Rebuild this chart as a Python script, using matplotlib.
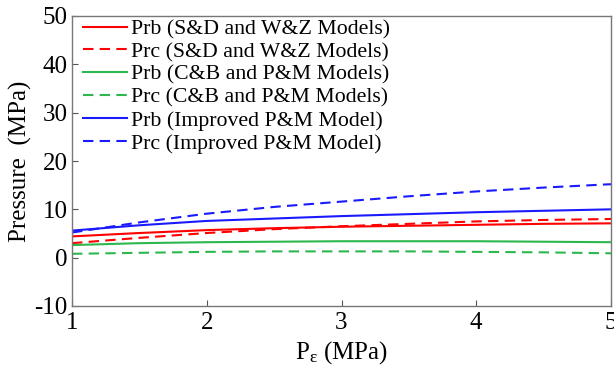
import matplotlib
matplotlib.use("Agg")
import matplotlib.pyplot as plt

plt.rcParams['font.family'] = ['Liberation Serif', 'DejaVu Serif']
plt.rcParams['mathtext.fontset'] = 'custom'
plt.rcParams['mathtext.rm'] = 'Liberation Serif'
plt.rcParams['mathtext.it'] = 'Liberation Serif'
plt.rcParams['axes.unicode_minus'] = False

pe = [1.0, 1.5, 2.0, 2.5, 3.0, 3.5, 4.0, 4.5, 5.0]
prb_sdwz = [4.4, 5.1, 5.7, 6.1, 6.4, 6.6, 6.8, 7.0, 7.1]
prc_sdwz = [3.0, 4.1, 5.1, 5.9, 6.5, 7.0, 7.5, 7.8, 8.0]
prb_cbpm = [2.6, 3.0, 3.2, 3.3, 3.4, 3.4, 3.4, 3.3, 3.2]
prc_cbpm = [0.8, 1.0, 1.2, 1.3, 1.3, 1.3, 1.2, 1.1, 0.9]
prb_imp = [5.6, 6.7, 7.6, 8.1, 8.6, 9.0, 9.4, 9.7, 10.0]
prc_imp = [5.2, 7.3, 9.1, 10.5, 11.6, 12.7, 13.7, 14.5, 15.2]
labels = ["Prb (S&D and W&Z Models)", "Prc (S&D and W&Z Models)",
          "Prb (C&B and P&M Models)", "Prc (C&B and P&M Models)",
          "Prb (Improved P&M Model)", "Prc (Improved P&M Model)"]

red = "#ff0000"
green = "#2cb84e"
blue = "#1a1aff"

fig = plt.figure(figsize=(6.14, 3.67), dpi=100)
ax = fig.add_axes([72/614, 1-306/367, (611-72)/614, (306-16)/367])

ax.plot(pe, prb_sdwz, color=red, lw=1.5, label=labels[0])
ax.plot(pe, prc_sdwz, color=red, lw=1.5, ls=(0, (5, 3)), label=labels[1])
ax.plot(pe, prb_cbpm, color=green, lw=1.5, label=labels[2])
ax.plot(pe, prc_cbpm, color=green, lw=1.5, ls=(0, (5, 3)), label=labels[3])
ax.plot(pe, prb_imp, color=blue, lw=1.5, label=labels[4])
ax.plot(pe, prc_imp, color=blue, lw=1.5, ls=(0, (5, 3)), label=labels[5])

ax.set_xlim(1, 5)
ax.set_ylim(-10, 50)
ax.set_xticks([1, 2, 3, 4, 5])
ax.set_yticks([-10, 0, 10, 20, 30, 40, 50])
ax.tick_params(direction='in', length=4, labelsize=18, color='#555555', pad=3)
ax.tick_params(axis='x', pad=4)
for s in ax.spines.values():
    s.set_color('#777777')
    s.set_linewidth(1.0)

ax.set_xlabel(r"P$_\mathregular{\varepsilon}$ (MPa)", fontsize=18, labelpad=4)
ax.set_ylabel("Pressure  (MPa)", fontsize=18, labelpad=2)

ax.legend(loc='upper left', frameon=False, fontsize=15.7, handlelength=2.0,
          handletextpad=0.2, labelspacing=0.12, borderaxespad=0.0,
          bbox_to_anchor=(0.005, 1.02))

fig.savefig("out.png", dpi=100)
